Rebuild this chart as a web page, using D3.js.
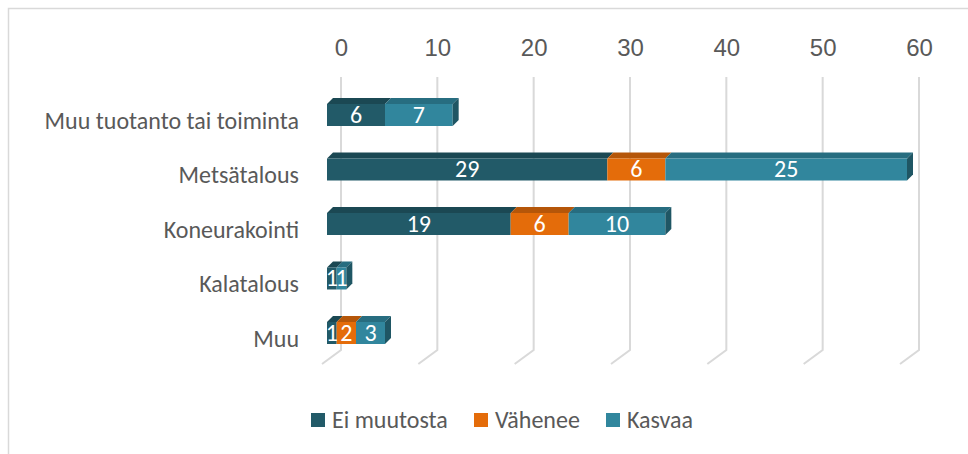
<!DOCTYPE html>
<html><head><meta charset="utf-8">
<script src="https://cdn.jsdelivr.net/npm/d3@7"></script>
<style>
html,body{margin:0;padding:0;background:#fff;}
svg{display:block;font-family:Carlito,Calibri,Lato,sans-serif;}
</style></head>
<body>
<svg id="chart" width="968" height="454"></svg>
<script>
const categories = ["Muu tuotanto tai toiminta","Metsätalous","Koneurakointi","Kalatalous","Muu"];
const seriesNames = ["Ei muutosta","Vähenee","Kasvaa"];
const eiMuutosta = [6,29,19,1,1];
const vahenee = [0,6,6,0,2];
const kasvaa = [7,25,10,1,3];
const tickValues = [0,10,20,30,40,50,60];

const frontColors = ["#225a68","#e46c0a","#31869d"];
const topColors = ["#1b4853","#b55609","#276d80"];
const sideColors = ["#1a4550","#a44e08","#1f5664"];

const svg = d3.select("#chart");
const W = 968, H = 454;

// chart border
svg.append("rect").attr("x",8.5).attr("y",8.5).attr("width",W+10).attr("height",H+10)
  .attr("fill","none").attr("stroke","#d9d9d9").attr("stroke-width",1.5);

// scales
const xFront = d3.scaleLinear().domain([0,60]).range([327,907]);
const xBack = d3.scaleLinear().domain([0,60]).range([341,919]);
const yCenter = d3.scalePoint().domain(categories).range([115,333]);
const barH = 22, dx = 6, dy = 6;
const backTop = 77, backBottom = 350, floorDx = -19, floorDy = 14;

// gridlines (back wall + floor)
const grid = svg.append("g");
tickValues.forEach(t => {
  const xb = xBack(t);
  grid.append("path")
    .attr("d", `M${xb},${backTop}L${xb},${backBottom}L${xb+floorDx},${backBottom+floorDy}`)
    .attr("fill","none").attr("stroke","#d9d9d9").attr("stroke-width",2);
});

// top axis labels
const axis = d3.axisTop(xBack).tickValues(tickValues).tickSize(0).tickPadding(0);
const ag = svg.append("g").attr("transform","translate(0,48)").call(axis);
ag.select(".domain").remove();
ag.selectAll("text").attr("font-size",24).attr("fill","#595959").attr("font-family",null)
  .attr("dy","0.33em");

// category labels
svg.append("g").selectAll("text").data(categories).join("text")
  .attr("x",299).attr("y",d=>yCenter(d)+6)
  .attr("dy","0.33em").attr("text-anchor","end")
  .attr("font-size",24).attr("fill","#595959").text(d=>d);

// stacked data
const rows = categories.map((c,i)=>({cat:c, vals:[eiMuutosta[i],vahenee[i],kasvaa[i]]}));
const bars = svg.append("g");
const labels = svg.append("g");
rows.forEach(r => {
  let cum = 0;
  const yc = yCenter(r.cat), y0 = yc - barH/2, y1 = yc + barH/2;
  let lastIdx = -1;
  r.vals.forEach((v,k)=>{ if(v>0) lastIdx = k; });
  const segs = [];
  r.vals.forEach((v,k) => {
    if (v <= 0) return;
    const a = xFront(cum), b = xFront(cum+v);
    segs.push({a,b,k,v});
    cum += v;
  });
  segs.forEach(s => {
    bars.append("path")
      .attr("d",`M${s.a},${y0}L${s.a+dx},${y0-dy}L${s.b+dx},${y0-dy}L${s.b},${y0}Z`)
      .attr("fill",topColors[s.k]);
  });
  segs.forEach(s => {
    bars.append("rect").attr("x",s.a).attr("y",y0).attr("width",s.b-s.a).attr("height",barH)
      .attr("fill",frontColors[s.k]);
    if (s.k === lastIdx) {
      bars.append("path")
        .attr("d",`M${s.b},${y0}L${s.b+dx},${y0-dy}L${s.b+dx},${y1-dy}L${s.b},${y1}Z`)
        .attr("fill",sideColors[s.k]);
    }
    labels.append("text").attr("x",(s.a+s.b)/2).attr("y",yc).attr("dy","0.33em")
      .attr("text-anchor","middle").attr("font-size",24).attr("fill","#ffffff").text(s.v);
  });
});

// legend
const legendX = [311,474,606];
const lg = svg.append("g");
seriesNames.forEach((n,i) => {
  lg.append("rect").attr("x",legendX[i]).attr("y",413).attr("width",14).attr("height",14).attr("fill",frontColors[i]);
  lg.append("text").attr("x",legendX[i]+21).attr("y",420).attr("dy","0.33em")
    .attr("font-size",24).attr("fill","#595959").text(n);
});
</script>
</body></html>
